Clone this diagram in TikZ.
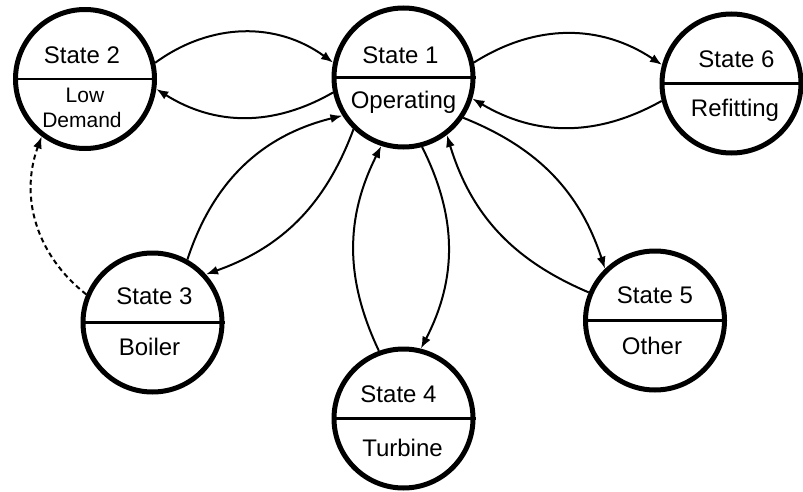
\documentclass[tikz,border=0pt]{standalone}
\usepackage{fontspec}
\setmainfont{Liberation Sans}
\usetikzlibrary{arrows.meta}
\begin{document}
\begin{tikzpicture}[x=1pt,y=1pt,
  statecirc/.style={circle,draw,line width=5pt,minimum size=139pt,inner sep=0pt},
  divider/.style={line width=2.4pt},
  toptext/.style={anchor=base,font=\fontsize{24}{28}\selectfont,inner sep=0pt},
  bottext/.style={anchor=base,font=\fontsize{24}{28}\selectfont,inner sep=0pt},
  smalltext/.style={anchor=base,font=\fontsize{21}{25}\selectfont,inner sep=0pt},
  trans/.style={line width=2pt,-{Latex[length=12pt,width=9pt]}},
  weak/.style={trans,dash pattern=on 5pt off 3.5pt}]
\useasboundingbox (0,0) rectangle (803,-492);

% states
\node[statecirc] (s2) at (85,-79) {};
\node[statecirc] (s1) at (403.5,-77.5) {};
\node[statecirc] (s6) at (731.5,-83.5) {};
\node[statecirc] (s3) at (152.5,-322.5) {};
\node[statecirc] (s4) at (403.5,-418.5) {};
\node[statecirc] (s5) at (655,-320.5) {};

% horizontal dividers
\foreach \s in {s1,s2,s3,s4,s5,s6}
  \draw[divider] (\s.west) -- (\s.east);

% labels
\node[toptext] (s2a) at ([xshift=-3pt,yshift=15pt]s2.center) {State 2};
\node[smalltext] (s2b) at ([yshift=-24pt]s2.center) {Low};
\node[smalltext] (s2c) at ([xshift=-3pt,yshift=-49pt]s2.center) {Demand};

\node[toptext] (s1a) at ([xshift=-3pt,yshift=13.5pt]s1.center) {State 1};
\node[bottext] (s1b) at ([yshift=-31pt]s1.center) {Operating};

\node[toptext] (s6a) at ([xshift=5pt,yshift=15.5pt]s6.center) {State 6};
\node[bottext] (s6b) at ([xshift=3.5pt,yshift=-33pt]s6.center) {Refitting};

\node[toptext] (s3a) at ([xshift=2pt,yshift=18.5pt]s3.center) {State 3};
\node[bottext] (s3b) at ([xshift=-3pt,yshift=-32.5pt]s3.center) {Boiler};

\node[toptext] (s4a) at ([xshift=-5pt,yshift=16.5pt]s4.center) {State 4};
\node[bottext] (s4b) at ([xshift=-1pt,yshift=-37.5pt]s4.center) {Turbine};

\node[toptext] (s5a) at ([yshift=17.5pt]s5.center) {State 5};
\node[bottext] (s5b) at ([xshift=-3pt,yshift=-33.5pt]s5.center) {Other};

% transitions
\draw[trans] (s2.13) to[bend left=36] (s1.168);
\draw[trans] (s1.192) to[bend left=31] (s2.-8);
\draw[trans] (s1.12) to[bend left=33] (s6.165);
\draw[trans] (s6.194) to[bend left=30] (s1.-17);
\draw[trans] (s3.61) to[bend left=29] (s1.212);
\draw[trans] (s1.226) to[bend left=25] (s3.42);
\draw[trans] (s4.110) to[bend left=26] (s1.252);
\draw[trans] (s1.285) to[bend left=27] (s4.76);
\draw[trans] (s1.-34) to[bend left=25] (s5.134);
\draw[trans] (s5.157) to[bend left=25] (s1.307);
\draw[weak] (s3.157) to[bend left=36] (s2.233);
\end{tikzpicture}
\end{document}
